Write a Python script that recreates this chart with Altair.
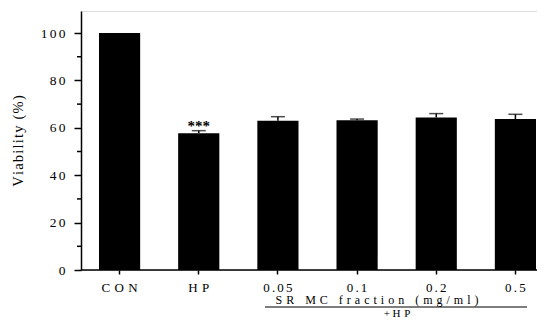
import altair as alt
import pandas as pd

categories = ["CON", "HP", "0.05", "0.1", "0.2", "0.5"]
viability = [100.0, 57.7, 63.0, 63.2, 64.4, 63.7]
sem = [0.0, 1.1, 1.7, 0.5, 1.6, 2.0]
signif = ["", "***", "", "", "", ""]
y_ticks = [0, 20, 40, 60, 80, 100]
y_minor = [10, 30, 50, 70, 90]

FONT = "Liberation Serif, Times New Roman, Times, serif"
NARROW = "\u2006"
HAIR = "\u200a"
WIDE = "\u2004"

df = pd.DataFrame({"cat": categories, "v": viability, "e": sem, "sig": signif})
df["top"] = df["v"] + df["e"]
minor_df = pd.DataFrame({"m": y_minor})

W, H = 456, 259
ymax = 109.3

x_scale = alt.Scale(domain=categories, range=[-1, 474], paddingInner=0.48, paddingOuter=0.24)
y_scale = alt.Scale(domain=[0, ymax], nice=False, zero=True)

label_expr = (
    "(datum.value == 'CON' || datum.value == 'HP') ? "
    f"join(split(datum.label, ''), '{WIDE}') : join(split(datum.label, ''), '{NARROW}')"
)

base = alt.Chart(df)

bars = base.mark_bar(color="black").encode(
    x=alt.X("cat:N", scale=x_scale, sort=categories,
            axis=alt.Axis(title=None, domain=False, ticks=True, tickSize=4, tickColor="black",
                          tickWidth=1.5, labelAngle=0, labelFont=FONT, labelFontSize=13,
                          labelColor="black", labelPadding=7, labelExpr=label_expr,
                          grid=False)),
    y=alt.Y("v:Q", scale=y_scale,
            axis=alt.Axis(title=HAIR.join("Viability (%)"), values=y_ticks, grid=False,
                          domainColor="black", domainWidth=1.5, tickColor="black",
                          tickWidth=1.5, tickSize=7, labelFont=FONT, labelFontSize=13.5,
                          labelColor="black", labelPadding=9,
                          labelExpr=f"join(split(datum.label, ''), '{NARROW}')",
                          titleFont=FONT, titleFontSize=14.5, titleFontWeight="normal",
                          titleColor="black", titlePadding=15)),
)

err_line = base.transform_filter("datum.e > 0").mark_rule(color="black", strokeWidth=1.5).encode(
    x=alt.X("cat:N", scale=x_scale, sort=categories),
    y=alt.Y("v:Q", scale=y_scale),
    y2="top:Q",
)

err_cap = base.transform_filter("datum.e > 0").mark_tick(
    color="black", orient="horizontal", size=14, thickness=1.5
).encode(
    x=alt.X("cat:N", scale=x_scale, sort=categories),
    y=alt.Y("top:Q", scale=y_scale),
)

stars = base.transform_filter("datum.sig != ''").mark_text(
    font=FONT, fontSize=15, fontWeight="bold", color="black", baseline="alphabetic", dy=0
).encode(
    x=alt.X("cat:N", scale=x_scale, sort=categories),
    y=alt.Y("top:Q", scale=y_scale),
    text=alt.Text("sig:N"),
)

minor_ticks = alt.Chart(minor_df).mark_rule(color="black", strokeWidth=1.5).encode(
    y=alt.Y("m:Q", scale=y_scale),
    x=alt.value(-4),
    x2=alt.value(0),
)

baseline = alt.Chart(pd.DataFrame({"z": [0]})).mark_rule(color="black", strokeWidth=1.5).encode(
    y=alt.Y("z:Q", scale=y_scale),
    x=alt.value(0),
    x2=alt.value(W),
)

group_text = alt.Chart(pd.DataFrame({"t": [WIDE.join("SR MC fraction (mg/ml)")]})).mark_text(
    font=FONT, fontSize=12, color="black", baseline="middle", align="center"
).encode(x=alt.value(296), y=alt.value(289), text="t:N")

group_line = alt.Chart(pd.DataFrame({"z": [0]})).mark_rule(color="black", strokeWidth=1.2).encode(
    x=alt.value(184), x2=alt.value(446), y=alt.value(296)
)

hp_text = alt.Chart(pd.DataFrame({"t": ["+ " + WIDE.join("HP")]})).mark_text(
    font=FONT, fontSize=11, color="black", baseline="bottom", align="center"
).encode(x=alt.value(316), y=alt.value(307.5), text="t:N")

chart = alt.layer(
    bars, err_line, err_cap, stars, minor_ticks, baseline, group_text, group_line, hp_text
).properties(
    width=W, height=H,
    autosize=alt.AutoSizeParams(type="none"),
    padding={"left": 73, "top": 3, "right": 0, "bottom": 49},
).configure_view(stroke=None).configure(background="white")

chart.save("out.html", embed_options={"renderer": "svg", "actions": False})
